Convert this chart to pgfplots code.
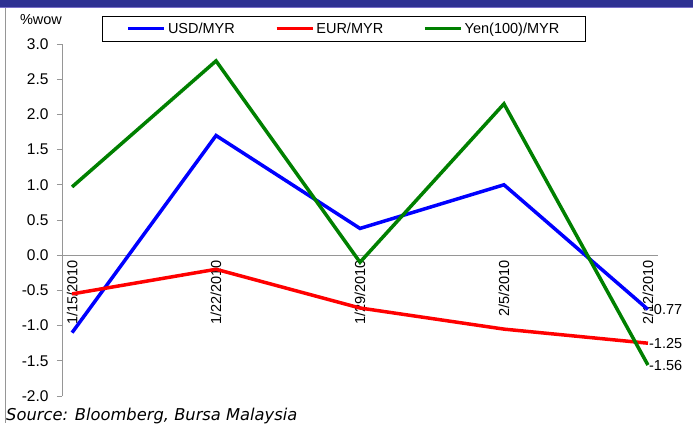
\documentclass[border=0pt]{standalone}
\usepackage{pgfplots}
\pgfplotsset{compat=1.18}
\usepackage{fontspec}
\setmainfont{Liberation Sans}
\newfontfamily\srcfont{DejaVu Sans}
\definecolor{topbar}{RGB}{46,49,146}
\definecolor{topbarlight}{RGB}{120,110,200}
\definecolor{axgray}{RGB}{150,150,150}
\definecolor{xgreen}{RGB}{0,128,0}
\begin{document}
\begin{tikzpicture}[x=1pt,y=1pt,font=\fontsize{14.5}{17}\selectfont]
\useasboundingbox (0,0) rectangle (693,423);
\fill[topbar] (0,415.5) rectangle (693,423);
\draw[topbarlight, line width=1pt] (0,415) -- (693,415);
\draw[axgray, line width=1pt] (5.5,414.5) -- (5.5,0);
\node[anchor=center] at (41,403) {\%wow};
\node[anchor=base west, inner sep=0pt, font=\srcfont\fontsize{16.3}{17}\selectfont\itshape] at (6,3) {Source: Bloomberg, Bursa Malaysia};
\begin{axis}[
  at={(62pt,27pt)}, anchor=south west,
  scale only axis, width=596pt, height=352pt,
  xmin=-0.07, xmax=4.07, ymin=-2, ymax=3,
  axis y line=left, axis x line=middle,
  axis line style={-, axgray, line width=0.8pt},
  clip=false,
  xtick={0,1,2,3,4},
  xticklabels={1/15/2010,1/22/2010,1/29/2010,2/5/2010,2/12/2010},
  x tick style={draw=none},
  minor xtick={-0.07,0.93,1.93,2.93,3.93},
  minor x tick style={axgray, line width=0.8pt, yshift=2.5pt},
  minor tick length=5pt,
  xticklabel style={rotate=90, anchor=east, font=\fontsize{14.5}{17}\selectfont, inner sep=2pt, xshift=2pt},
  ytick={-2,-1.5,...,3},
  y tick style={axgray, line width=0.8pt},
  tick align=outside,
  major tick length=5pt,
  yticklabel style={font=\fontsize{15.5}{17}\selectfont, xshift=-5pt, /pgf/number format/.cd, fixed, fixed zerofill, precision=1, assume math mode=true},
  legend columns=3,
  legend style={at={(0.473,1.044)}, anchor=center, draw=black, line width=0.8pt, fill=white,
    font=\fontsize{14.5}{17}\selectfont, inner xsep=24pt, inner ysep=4.5pt,
    /tikz/every even column/.append style={column sep=38pt}},
  legend image code/.code={\draw[#1, line width=3.5pt] (0pt,0pt) -- (36pt,0pt);},
]
\addplot[blue, line width=3.5pt] coordinates {(0,-1.1) (1,1.7) (2,0.38) (3,1.0) (4,-0.77)};
\addlegendentry{USD/MYR}
\addplot[red, line width=3.5pt] coordinates {(0,-0.55) (1,-0.2) (2,-0.75) (3,-1.05) (4,-1.25)};
\addlegendentry{EUR/MYR}
\addplot[xgreen, line width=3.5pt] coordinates {(0,0.97) (1,2.76) (2,-0.1) (3,2.15) (4,-1.56)};
\addlegendentry{Yen(100)/MYR}
\node[anchor=west, inner sep=1pt] at (axis cs:4,-0.77) {-0.77};
\node[anchor=west, inner sep=1pt] at (axis cs:4,-1.25) {-1.25};
\node[anchor=west, inner sep=1pt] at (axis cs:4,-1.56) {-1.56};
\end{axis}
\end{tikzpicture}
\end{document}
